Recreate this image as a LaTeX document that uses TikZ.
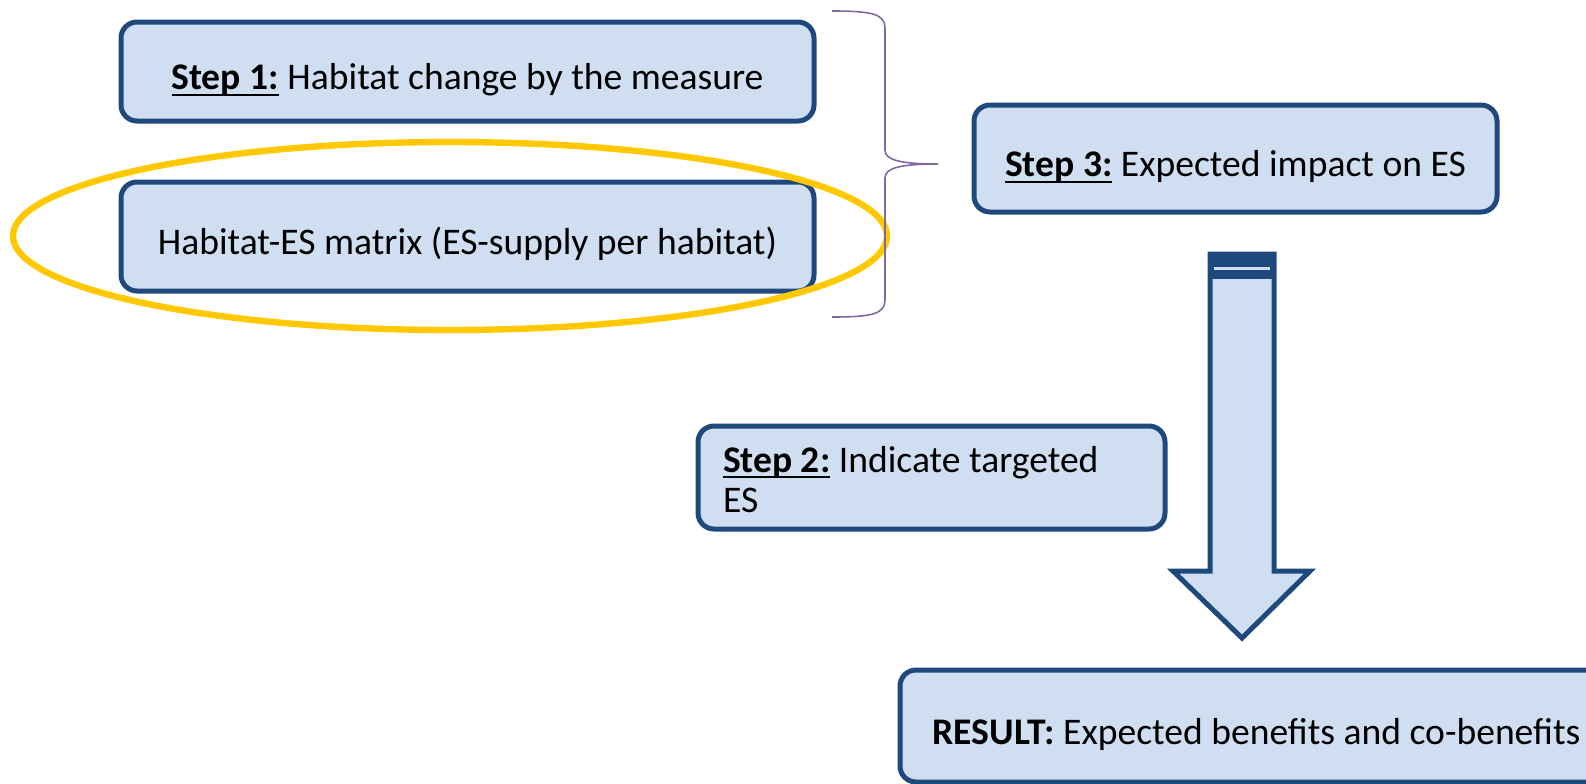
\documentclass[tikz,border=0pt]{standalone}
\usepackage{fontspec}
\setmainfont{Carlito}
\usetikzlibrary{positioning}
\definecolor{bdr}{RGB}{31,73,125}
\definecolor{bfill}{RGB}{207,223,241}
\definecolor{ring}{RGB}{255,200,0}
\definecolor{brc}{RGB}{128,104,160}
\newsavebox\stpbox
\newcommand\stp[1]{\sbox\stpbox{\textbf{#1}}\rlap{\rule[-3pt]{\wd\stpbox}{1pt}}\usebox\stpbox}

\begin{document}
\begin{tikzpicture}[x=0.5pt,y=-0.5pt,font=\fontsize{18.8}{20}\selectfont,
  stepbox/.style={draw=bdr,line width=2.5pt,rounded corners=8pt,fill=bfill,inner sep=0pt,align=center,
    text height=21pt,text depth=3pt},
  brace/.style={draw=brc,line width=0.8pt}]
  \useasboundingbox (0,0) rectangle (1586,783);
  \node[stepbox,minimum width=346.5pt,minimum height=49.5pt] (s1) at (467.5,71.5) {\stp{Step 1:} Habitat change by the measure};
  \node[stepbox,minimum width=346.5pt,minimum height=54.5pt] (hm) at (467.5,236.5) {Habitat-ES matrix (ES-supply per habitat)};
  \node[stepbox,minimum width=261.5pt,minimum height=53.5pt] (s3) at (1235.5,158.5) {\stp{Step 3:} Expected impact on ES};
  \node[stepbox,minimum width=233.5pt,minimum height=51.5pt,text width=208.5pt,inner xsep=12.5pt,align=flush left,
    text height=15pt,text depth=20.5pt] (s2) at (931.5,477.5) {\stp{Step 2:} Indicate targeted\\ES};
  \node[stepbox,minimum width=356.5pt,minimum height=56pt] (res) at (1256.5,726) {\textbf{RESULT:} Expected benefits and co-benefits};
  % ring round the matrix
  \draw[ring,line width=3.2pt] (450,236) ellipse [x radius=437,y radius=94];
  % brace
  \coordinate (bt) at (832,11); \coordinate (bb) at (832,317); \coordinate (tip) at (938,164);
  \path[brace] (bt) .. controls (872,11) and (885,14) .. (885,28) -- (885,150)
    .. controls (885,160) and (900,164) .. (tip)
    .. controls (900,164) and (885,168) .. (885,178) -- (885,300)
    .. controls (885,314) and (872,317) .. (bb);
  % block arrow
  \draw[bdr,fill=bfill,line width=2.5pt,miter limit=4] (1210,254) -- (1274,254) -- (1274,571) -- (1310,571)
    -- (1242,638) -- (1173,571) -- (1210,571) -- cycle;
  \fill[bdr] (1210,254) rectangle (1274,279);
  \draw[bfill,line width=1.2pt] (1214,268.5) -- (1270,268.5);
\end{tikzpicture}
\end{document}
